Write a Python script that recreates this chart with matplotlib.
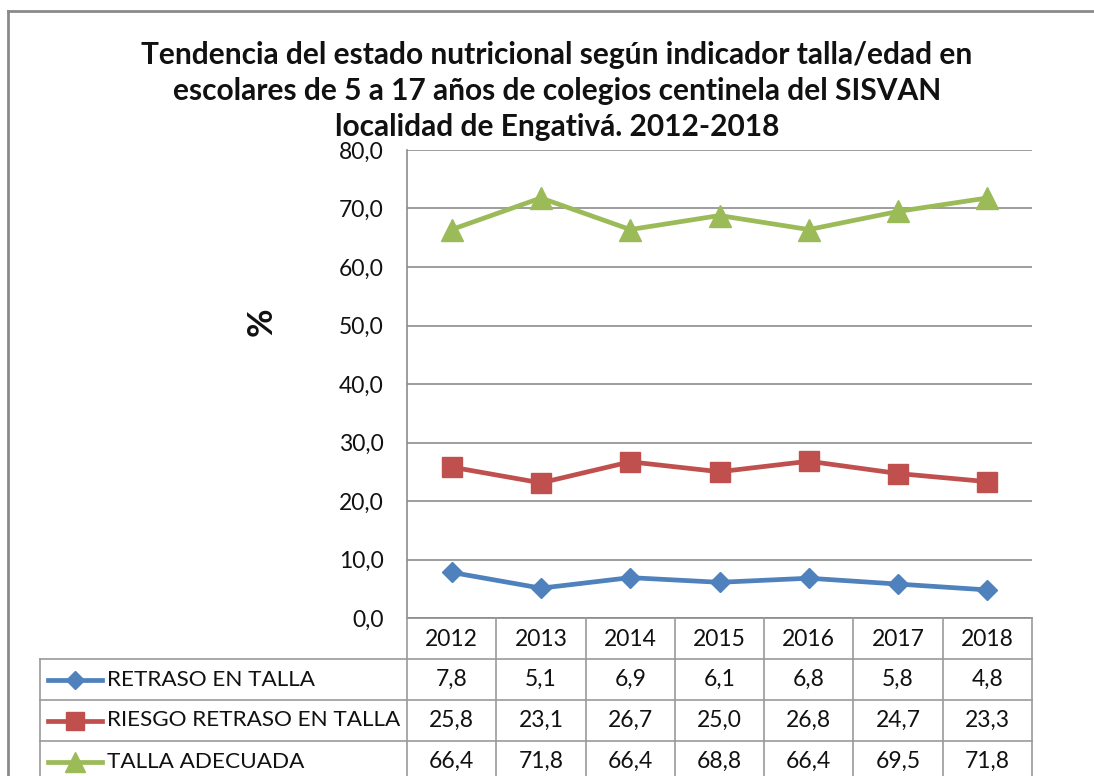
import matplotlib
matplotlib.use("Agg")
import matplotlib.pyplot as plt
from matplotlib.lines import Line2D

years = ["2012", "2013", "2014", "2015", "2016", "2017", "2018"]
retraso = [7.8, 5.1, 6.9, 6.1, 6.8, 5.8, 4.8]
riesgo = [25.8, 23.1, 26.7, 25.0, 26.8, 24.7, 23.3]
adecuada = [66.4, 71.8, 66.4, 68.8, 66.4, 69.5, 71.8]
series_names = ["RETRASO EN TALLA", "RIESGO RETRASO EN TALLA", "TALLA ADECUADA"]
y_ticks = [0, 10, 20, 30, 40, 50, 60, 70, 80]

title = ("Tendencia del estado nutricional según indicador talla/edad en\n"
         "escolares de 5 a 17 años de colegios centinela del SISVAN\n"
         "localidad de Engativá. 2012-2018")

colors = ["#4F81BD", "#C0504D", "#9BBB59"]
markers = ["D", "s", "^"]
msizes = [10, 15, 16]

plt.rcParams['font.family'] = ['Lato', 'DejaVu Sans']

W, H = 1094, 776
fig = plt.figure(figsize=(W / 100, H / 100), dpi=100)

# pixel helpers (top-left origin)
def fx(px):
    return px / W

def fy(py):
    return 1 - py / H

txt_c = "#111111"
grid_c = "#8c8c8c"
L, R, T, B = 407, 1032, 150, 618
num_fs = 16.5
name_fs = 16.2

ax = fig.add_axes([fx(L), fy(B), fx(R) - fx(L), fy(T) - fy(B)])
xs = list(range(len(years)))
for vals, c, m, ms in zip([retraso, riesgo, adecuada], colors, markers, msizes):
    ax.plot(xs, vals, color=c, lw=3.4, marker=m, ms=ms, mec=c, mfc=c, zorder=3,
            clip_on=False)
ax.set_xlim(-0.5, len(years) - 0.5)
ax.set_ylim(0, 80)
ax.set_yticks(y_ticks)
ax.set_yticklabels([f"{v:.1f}".replace(".", ",") for v in y_ticks], fontsize=num_fs,
                   color=txt_c)
ax.set_xticks([])
ax.tick_params(axis="y", length=0, pad=17)
ax.yaxis.grid(True, color=grid_c, lw=1.2)
ax.set_axisbelow(True)
for s in ["top", "right"]:
    ax.spines[s].set_visible(False)
ax.spines["left"].set_color(grid_c)
ax.spines["left"].set_linewidth(1.2)
ax.spines["bottom"].set_color(grid_c)
ax.spines["bottom"].set_linewidth(1.2)

fig.text(fx(262), fy(322), "%", rotation=90, ha="center", va="center",
         fontsize=25, fontweight="bold", color=txt_c)

fig.text(fx(557), fy(91), title, ha="center", va="center",
         fontsize=21.5, fontweight="bold", linespacing=1.36, color=txt_c)

# outer chart border
fig.add_artist(Line2D([fx(8), fx(1100)], [fy(11), fy(11)], color="#8a8a8a", lw=2))
fig.add_artist(Line2D([fx(8), fx(8)], [fy(11), fy(800)], color="#8a8a8a", lw=2))

# data table below the axis
col_w = (R - L) / len(years)
row_tops = [618, 659, 700, 741, 782]
tl = "#9a9a9a"
for i in range(len(years) + 1):
    x = L + i * col_w
    fig.add_artist(Line2D([fx(x), fx(x)], [fy(618), fy(782)], color=tl, lw=1.2))
fig.add_artist(Line2D([fx(40), fx(40)], [fy(659), fy(782)], color=tl, lw=1.2))
for yy in row_tops[1:]:
    fig.add_artist(Line2D([fx(40), fx(R)], [fy(yy), fy(yy)], color=tl, lw=1.2))

for i, yr in enumerate(years):
    fig.text(fx(L + (i + 0.5) * col_w), fy(639), yr, ha="center", va="center",
             fontsize=num_fs, color=txt_c)

for r, (name, vals) in enumerate(zip(series_names, [retraso, riesgo, adecuada])):
    yc = (row_tops[r + 1] + row_tops[r + 2]) / 2
    fig.add_artist(Line2D([fx(48), fx(102)], [fy(yc), fy(yc)], color=colors[r], lw=3.4))
    fig.add_artist(Line2D([fx(75)], [fy(yc)], color=colors[r], marker=markers[r],
                          ms=msizes[r] * 0.9, mec=colors[r], mfc=colors[r]))
    fig.text(fx(107), fy(yc), name, ha="left", va="center", fontsize=name_fs,
             color=txt_c)
    for i, v in enumerate(vals):
        fig.text(fx(L + (i + 0.5) * col_w), fy(yc), f"{v:.1f}".replace(".", ","),
                 ha="center", va="center", fontsize=num_fs, color=txt_c)

fig.savefig("out.png", dpi=100)
